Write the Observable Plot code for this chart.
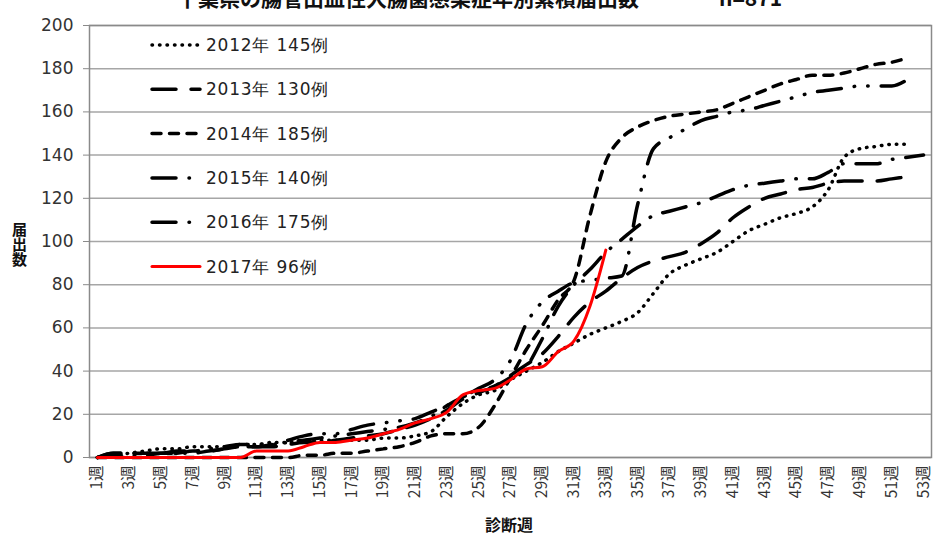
<!DOCTYPE html>
<html><head><meta charset="utf-8">
<script src="https://cdn.jsdelivr.net/npm/d3@7"></script>
<script src="https://cdn.jsdelivr.net/npm/@observablehq/plot@0.6"></script>
<style>
body{margin:0;background:#fff;}
#wrap{position:relative;width:936px;height:540px;overflow:hidden;background:#fff;}
#wrap > svg.plot{position:absolute;left:0;top:0;}
.title{position:absolute;top:-13px;font:bold 21px "Noto Sans CJK JP",sans-serif;line-height:21px;color:#111;white-space:nowrap;}
.xlab{position:absolute;left:485px;top:514px;font:bold 16px "Noto Sans CJK JP",sans-serif;line-height:20px;color:#111;white-space:nowrap;}
.ylab{position:absolute;left:11px;top:222px;writing-mode:vertical-rl;text-orientation:upright;font:bold 15px "Noto Sans CJK JP",sans-serif;line-height:16px;color:#111;white-space:nowrap;}
#legend{position:absolute;left:0;top:0;}
</style></head><body><div id="wrap"></div><script>
// ---- data ----
const years = ["2012年 145例","2013年 130例","2014年 185例","2015年 140例","2016年 175例","2017年 96例"];
const v2012 = [0,1,2,3,4,4,5,5,5,6, 6,7,7,8,8,8,8,8,9,9, 10,12,19,25,29,31,36,40,44,49, 53,57,60,63,67,76,85,89,92,95, 100,105,108,111,113,116,124,139,143,144, 145,145];
const v2013 = [0,2,2,2,2,2,3,3,4,5, 5,5,6,7,7,8,9,10,11,13, 15,18,22,27,30,33,38,43,48,56, 65,72,77,83,88,91,93,95,99,104, 111,116,120,122,124,125,127,128,128,128, 129,130];
const v2014 = [0,0,0,0,0,0,0,0,0,0, 0,0,0,1,1,2,2,3,4,5, 7,10,11,11,14,24,37,50,61,73, 82,112,137,148,153,156,158,159,160,161, 164,167,170,173,175,177,177,178,180,182, 183,185];
const v2015 = [0,1,1,1,2,2,2,3,4,5, 5,6,7,8,9,10,11,12,13,14, 16,19,24,28,31,33,37,42,55,70, 80,87,95,101,107,112,114,116,118,121, 124,126,127,128,129,129,132,136,136,136, 138,139,140];
const v2016 = [0,2,2,2,2,3,3,4,5,6, 6,6,8,10,11,11,13,15,16,17, 18,21,24,28,32,36,45,62,72,77, 81,82,83,84,117,143,148,152,156,158, 160,161,163,165,167,169,170,171,172,172, 172,175];
const v2017 = [0,0,0,0,0,0,0,0,0,0, 3,3,3,5,7,7,8,9,11,13, 16,18,21,29,31,32,36,41,42,49, 54,70,96];
const tickWeeks = [1,3,5,7,9,11,13,15,17,19,21,23,25,27,29,31,33,35,37,39,41,43,45,47,49,51,53];
const yTicks = [0,20,40,60,80,100,120,140,160,180,200];

const seriesValues = [v2012,v2013,v2014,v2015,v2016,v2017];
const styles = [
  {stroke:"#000", dash:"0.5,7"},
  {stroke:"#000", dash:"24,15"},
  {stroke:"#000", dash:"9,8.5"},
  {stroke:"#000", dash:"24,13,0.5,13"},
  {stroke:"#000", dash:"24,13,0.5,13,0.5,13"},
  {stroke:"#ff0000", dash:null}
];
const rows = seriesValues.map((vals,i)=>vals.map((v,k)=>({week:k+1, value:v, series:years[i]})));

const lineMarks = rows.map((data,i)=>Plot.line(data,{
  x:"week", y:"value", stroke: styles[i].stroke,
  strokeWidth: i===5 ? 3 : 3.5,
  strokeDasharray: styles[i].dash || undefined,
  strokeLinecap: "round", strokeLinejoin:"round",
  curve: "monotone-x"
}));

const chart = Plot.plot({
  width: 936, height: 540,
  marginLeft: 89, marginRight: 5, marginTop: 25, marginBottom: 83,
  style: {background:"transparent", fontFamily:"'DejaVu Sans', Verdana, sans-serif"},
  x: {domain:[0.5,53.5]},
  y: {domain:[0,200]},
  marks: [
    Plot.gridY(yTicks, {stroke:"#a6a6a6", strokeOpacity:1, strokeWidth:1.5}),
    Plot.frame({stroke:"#8a8a8a", strokeWidth:1.5}),
    ...lineMarks,
    Plot.axisY(yTicks, {label:null, tickSize:6, tickPadding:10, fontSize:17, fill:"#333", stroke:"#8a8a8a"}),
    Plot.axisX(tickWeeks, {label:null, tickSize:0, tickPadding:8, tickRotate:-90, tickFormat:d=>d+"週", fontSize:15.5, fontFamily:"'Noto Sans CJK JP', sans-serif", fill:"#333"})
  ]
});
chart.classList.add("plot");
const wrap = document.getElementById("wrap");
wrap.appendChild(chart);

// title (cropped at top as in the reference)
const t1 = document.createElement("div"); t1.className="title"; t1.style.left="177px"; t1.textContent="千葉県の腸管出血性大腸菌感染症年別累積届出数"; wrap.appendChild(t1);
const t2 = document.createElement("div"); t2.className="title"; t2.style.left="719px"; t2.textContent="n=871"; wrap.appendChild(t2);
const xl = document.createElement("div"); xl.className="xlab"; xl.textContent="診断週"; wrap.appendChild(xl);
const yl = document.createElement("div"); yl.className="ylab"; yl.textContent="届出数"; wrap.appendChild(yl);

// legend
const ns="http://www.w3.org/2000/svg";
const lg=document.createElementNS(ns,"svg"); lg.setAttribute("id","legend"); lg.setAttribute("width",936); lg.setAttribute("height",540);
years.forEach((name,i)=>{
  const cy = 45 + i*44.3;
  const ln=document.createElementNS(ns,"line");
  ln.setAttribute("x1",152); ln.setAttribute("x2",200); ln.setAttribute("y1",cy); ln.setAttribute("y2",cy);
  ln.setAttribute("stroke",styles[i].stroke); ln.setAttribute("stroke-width",i===5?3:3.5);
  ln.setAttribute("stroke-linecap","round");
  if(styles[i].dash) ln.setAttribute("stroke-dasharray",styles[i].dash);
  lg.appendChild(ln);
  const tx=document.createElementNS(ns,"text");
  tx.setAttribute("x",206); tx.setAttribute("y",cy+6);
  tx.setAttribute("font-family","'DejaVu Sans', Verdana, sans-serif"); tx.setAttribute("font-size",17);
  tx.setAttribute("letter-spacing",0.8);
  tx.setAttribute("fill","#222");
  tx.textContent=name; lg.appendChild(tx);
});
wrap.appendChild(lg);
</script></body></html>
